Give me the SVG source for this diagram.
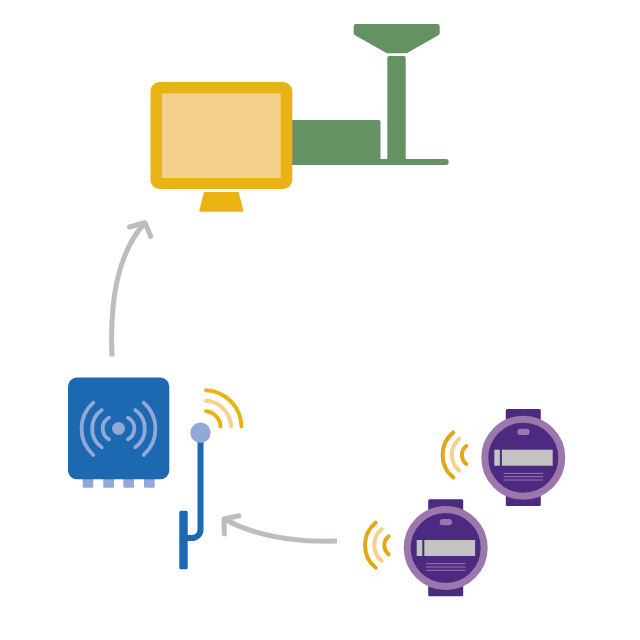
<svg xmlns="http://www.w3.org/2000/svg" width="640" height="640" viewBox="0 0 640 640">
  <style>
    .flow { fill: none; stroke: #bcbdc1; stroke-width: 5; stroke-linecap: round; stroke-linejoin: round; }
    .shaft { stroke-linecap: butt; }
    .green { fill: #659263; }
    .wave { fill: none; stroke-width: 4; stroke-linecap: round; }
    .amber { stroke: #e3a716; }
    .gold { stroke: #e9b314; }
    .pale { stroke: #f6d08e; }
    .rx { fill: none; stroke: #92a8d6; stroke-width: 3.800; stroke-linecap: round; }
    .port { fill: #92a8d6; }
    .strap { fill: #4b2a7f; }
    .bezel { fill: #4b2a7f; stroke: #9b77ad; stroke-width: 7; }
    .lcd { fill: #c4c4c4; }
    .tick { stroke: #9b77ad; stroke-width: 1; }
  </style>
  <defs>
    <g id="meter-body">
      <rect class="strap" x="-17.500" y="-48.700" width="35" height="97" rx="1.500"/>
      <circle class="bezel" r="38.500"/>
      <rect x="-6" y="-29" width="12.300" height="6.300" rx="3" fill="#9b77ad"/>
      <rect class="lcd" x="-29" y="-8" width="5.600" height="16"/>
      <rect class="lcd" x="-21.400" y="-8" width="50.800" height="16"/>
      <path class="tick" d="M-19.700 15.700H20M-19.700 19H20M-19.700 22.300H20"/>
    </g>
    <g id="meter-waves">
      <path class="wave amber" d="M-70 -25.300A29 29 0 0 0 -70 19.700"/>
      <path class="wave pale" d="M-64 -19A21 21 0 0 0 -64 13"/>
      <path class="wave amber" d="M-57 -11.700A11.500 11.500 0 0 0 -57 6.300"/>
    </g>
  </defs>

  <g id="connectors">
    <path class="flow shaft" d="M112 356.500Q108 264 144 224"/>
    <path class="flow" d="M129.500 227L145 222.700L150.700 236.500"/>
    <path class="flow shaft" d="M337 541Q269 543 226 520"/>
    <path class="flow" d="M239 515.700L224 519L224.300 534"/>
  </g>

  <g id="gateway">
    <path class="green" d="M292 120H379a1.500 1.500 0 0 1 1.500 1.500V159H387.300V58a2 2 0 0 1 2 -2H403.700a2 2 0 0 1 2 2V159H445.700a3 3 0 0 1 0 6H292Z"/>
    <path class="green" d="M356 24H437.500a2.200 2.200 0 0 1 2.200 2.200V33a2.500 2.500 0 0 1 -1.300 2.200L408 52.500a3 3 0 0 1 -1.500 .8H387a3 3 0 0 1 -1.500 -.8L355 35.200a2.500 2.500 0 0 1 -1.300 -2.200V26.200a2.200 2.200 0 0 1 2.200 -2.200Z"/>
  </g>

  <g id="monitor">
    <rect x="150.500" y="82" width="141.800" height="107" rx="9" fill="#e9b314"/>
    <rect x="162" y="93.500" width="118.700" height="84.500" fill="#f5d08c"/>
    <path d="M204 192H238.700L243.300 210.500a1 1 0 0 1 -1 1.200H200.300a1 1 0 0 1 -1 -1.200Z" fill="#e9b314"/>
  </g>

  <g id="receiver">
    <rect class="port" x="82.700" y="475" width="10.600" height="12.700" rx="1.500"/>
    <rect class="port" x="103.300" y="475" width="10.700" height="12.700" rx="1.500"/>
    <rect class="port" x="123.300" y="475" width="10.700" height="12.700" rx="1.500"/>
    <rect class="port" x="144" y="475" width="10.700" height="12.700" rx="1.500"/>
    <rect x="68" y="377.500" width="101.300" height="101.800" rx="9" fill="#1c69b2"/>
    <circle cx="118.500" cy="428.500" r="6.500" fill="#92a8d6"/>
    <path class="rx" d="M93.300 402.700A35 35 0 0 0 93.300 455M101.700 410A23 23 0 0 0 101.700 447.300M109 417.700A12.400 12.400 0 0 0 109 439.300"/>
    <path class="rx" d="M143.700 402.700A35 35 0 0 1 143.700 455M135.300 410A23 23 0 0 1 135.300 447.300M128 417.700A12.400 12.400 0 0 1 128 439.300"/>
  </g>

  <g id="antenna">
    <path d="M200.500 440V530a9 8 0 0 1 -9 8H184" fill="none" stroke="#1c69b2" stroke-width="6"/>
    <rect x="179.300" y="510.700" width="8.400" height="58.600" rx="1.500" fill="#1c69b2"/>
    <circle cx="200.500" cy="432.700" r="10.200" fill="#92a8d6"/>
    <path class="wave gold" d="M206 390.300A37 37 0 0 1 241.500 426.500"/>
    <path class="wave pale" d="M206 400.800A26.500 26.500 0 0 1 231 426.500"/>
    <path class="wave gold" d="M206 411.300A16 16 0 0 1 220.500 426.500"/>
  </g>

  <g id="meter-lower" transform="translate(445.700 548)">
    <use href="#meter-body"/>
    <use href="#meter-waves"/>
  </g>

  <g id="meter-upper" transform="translate(523.300 457.700)">
    <use href="#meter-body"/>
    <use href="#meter-waves"/>
  </g>
</svg>
